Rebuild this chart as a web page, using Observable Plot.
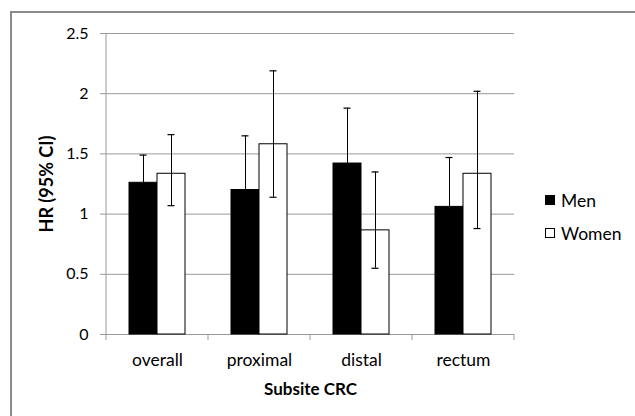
<!DOCTYPE html>
<html>
<head>
<meta charset="utf-8">
<script src="https://cdn.jsdelivr.net/npm/d3@7"></script>
<script src="https://cdn.jsdelivr.net/npm/@observablehq/plot@0.6"></script>
<style>
  html, body { margin: 0; padding: 0; background: #fff; }
  #wrap { position: relative; width: 635px; height: 416px; overflow: hidden; font-family: Lato, "Open Sans", sans-serif; }
  #border { position: absolute; left: 10px; top: 11px; width: 700px; height: 500px; border: 2px solid #8a8a8a; box-sizing: border-box; }
  #chart { position: absolute; left: 0; top: 0; }
  #legend { position: absolute; left: 545px; top: 190px; font-size: 17.5px; color: #000; }
  .item { display: flex; align-items: center; height: 20px; margin-bottom: 13px; }
  .sw { width: 10px; height: 10px; box-sizing: border-box; border: 1px solid #000; margin-right: 6px; }
</style>
</head>
<body>
<div id="wrap">
  <div id="border"></div>
  <div id="chart"></div>
  <div id="legend"></div>
</div>
<script>
const categories = ["overall", "proximal", "distal", "rectum"];
const sexes = ["Men", "Women"];
const sexColors = ["#000000", "#ffffff"];
const hrMen = [1.26, 1.20, 1.42, 1.06];
const lowMen = [1.07, 0.87, 1.07, 0.77];
const highMen = [1.49, 1.65, 1.88, 1.47];
const hrWomen = [1.335, 1.58, 0.865, 1.335];
const lowWomen = [1.07, 1.14, 0.55, 0.88];
const highWomen = [1.66, 2.19, 1.35, 2.02];
const yTicks = [0, 0.5, 1, 1.5, 2, 2.5];
const yTickLabels = ["0", "0.5", "1", "1.5", "2", "2.5"];

const rows = [];
categories.forEach((c, i) => {
  rows.push({cat: c, sex: "Men", hr: hrMen[i], lo: lowMen[i], hi: highMen[i]});
  rows.push({cat: c, sex: "Women", hr: hrWomen[i], lo: lowWomen[i], hi: highWomen[i]});
});

const plot = Plot.plot({
  width: 635,
  height: 416,
  marginLeft: 105,
  marginRight: 120,
  marginTop: 33,
  marginBottom: 82,
  style: {fontFamily: "Lato, 'Open Sans', sans-serif", fontSize: "16px", color: "#000", background: "transparent", overflow: "visible"},
  fx: {domain: categories, padding: 0, label: "Subsite CRC"},
  x: {domain: sexes, paddingInner: 0, paddingOuter: 0.77, align: 0.5, axis: null},
  y: {domain: [0, 2.5], label: "HR (95% CI)"},
  color: {domain: sexes, range: sexColors},
  marks: [
    Plot.gridY(yTicks.filter(d => d > 0), {stroke: "#999", strokeOpacity: 1}),
    Plot.ruleY([0], {stroke: "#999"}),
    Plot.barY(rows, {fx: "cat", x: "sex", y: "hr", fill: "sex", stroke: "#000", strokeWidth: 1}),
    Plot.ruleX(rows, {fx: "cat", x: "sex", y1: "lo", y2: "hi", stroke: "#000", strokeWidth: 1}),
    Plot.tickY(rows, {fx: "cat", x: "sex", y: "hi", stroke: "#000", strokeWidth: 1.2, insetLeft: 10.5, insetRight: 10.5}),
    Plot.tickY(rows, {fx: "cat", x: "sex", y: "lo", stroke: "#000", strokeWidth: 1.2, insetLeft: 10.5, insetRight: 10.5}),
    Plot.axisY(yTicks, {anchor: "left", tickSize: 6, tickPadding: 12, stroke: "#999", tickFormat: (d) => yTickLabels[yTicks.indexOf(d)], label: "HR (95% CI)", labelAnchor: "center", labelOffset: 66, labelArrow: "none"}),
    Plot.axisFx({anchor: "bottom", tickSize: 0, tickPadding: 19, label: "Subsite CRC", labelAnchor: "center", labelOffset: 60, labelArrow: "none"})
  ]
});

const svg = d3.select(plot);
svg.selectAll("g[aria-label='y-axis tick label'] text").style("font-size", "16px");
svg.selectAll("g[aria-label='fx-axis tick label'] text").style("font-size", "17.5px");
svg.selectAll("g[aria-label='y-axis label'] text").style("font-weight", "bold").style("font-size", "18px");
svg.selectAll("g[aria-label='fx-axis label'] text").style("font-weight", "bold").style("font-size", "17px");

// Excel-style axis line and category-boundary ticks, positioned with Plot's scales
const fx = plot.scale("fx");
const y = plot.scale("y");
const g = svg.append("g").attr("stroke", "#999").attr("stroke-width", 1);
const x0 = fx.apply(categories[0]);
g.append("line").attr("x1", x0).attr("x2", x0).attr("y1", y.apply(0)).attr("y2", y.apply(2.5));
const bounds = categories.map(c => fx.apply(c)).concat([fx.apply(categories[categories.length - 1]) + fx.bandwidth]);
bounds.forEach(b => {
  g.append("line").attr("x1", b).attr("x2", b).attr("y1", y.apply(0)).attr("y2", y.apply(0) + 6);
});

document.getElementById("chart").appendChild(plot);

// legend
const legend = document.getElementById("legend");
sexes.forEach((s, i) => {
  const it = document.createElement("div");
  it.className = "item";
  const sw = document.createElement("div");
  sw.className = "sw";
  sw.style.background = sexColors[i];
  it.appendChild(sw);
  const t = document.createElement("span");
  t.textContent = s;
  it.appendChild(t);
  legend.appendChild(it);
});
</script>
</body>
</html>
